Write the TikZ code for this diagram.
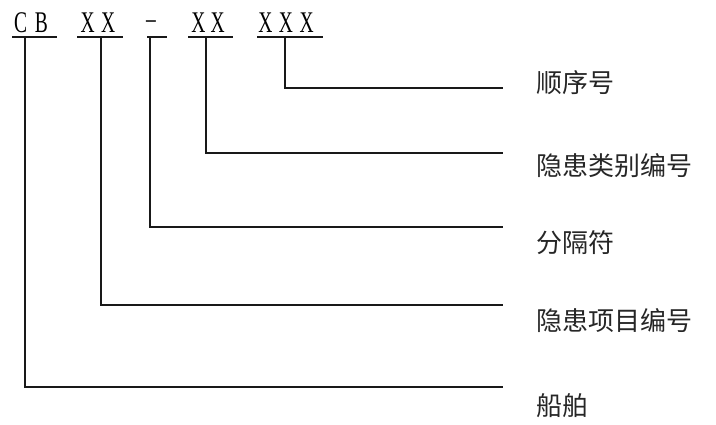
\documentclass[tikz,border=0pt]{standalone}
\usepackage{fontspec}
\setmainfont{Liberation Serif}
\newfontfamily\cjk{Noto Sans CJK SC}
\tikzset{
  code/.style={inner sep=0pt, anchor=base, font=\fontsize{30}{30}\selectfont, xscale=0.65, transform shape},
  lbl/.style={inner sep=0pt, anchor=west, font=\cjk\fontsize{26}{26}\selectfont, text=black!85},
  ln/.style={line width=2.4pt, black!90},
}
\begin{document}
\begin{tikzpicture}[x=1pt,y=-1pt]
\useasboundingbox[fill=white] (0,0) rectangle (716,425);
% code groups
\node[code] (cb) at (31,33) {C\kern12pt B};
\node[code] (xx1) at (98,33) {X\kern10pt X};
\node[code] (dash) at (151,29) {--};
\node[code] (xx2) at (208,33) {X\kern8pt X};
\node[code] (xxx) at (286,33) {X\kern10pt X\kern10pt X};
% underlines
\draw[ln] (12,37) coordinate (u1a) -- (57,37) coordinate (u1b);
\draw[ln] (77,37) coordinate (u2a) -- (123,37) coordinate (u2b);
\draw[ln] (147,37) coordinate (u3a) -- (167,37) coordinate (u3b);
\draw[ln] (188,37) coordinate (u4a) -- (233,37) coordinate (u4b);
\draw[ln] (257,37) coordinate (u5a) -- (323,37) coordinate (u5b);
% connector start points
\coordinate (s1) at (25,37);
\coordinate (s2) at (101,37);
\coordinate (s3) at (150,37);
\coordinate (s4) at (206,37);
\coordinate (s5) at (285,37);
% connector end points
\coordinate (e1) at (503,387);
\coordinate (e2) at (503,305);
\coordinate (e3) at (503,227);
\coordinate (e4) at (503,153);
\coordinate (e5) at (503,88);
% labels
\node[lbl] (l5) at (536,83) {顺序号};
\node[lbl] (l4) at (536,166) {隐患类别编号};
\node[lbl] (l3) at (536,243) {分隔符};
\node[lbl] (l2) at (536,321) {隐患项目编号};
\node[lbl] (l1) at (536,406) {船舶};
% connectors
\draw[ln] (s1) |- (e1);
\draw[ln] (s2) |- (e2);
\draw[ln] (s3) |- (e3);
\draw[ln] (s4) |- (e4);
\draw[ln] (s5) |- (e5);
\end{tikzpicture}
\end{document}
